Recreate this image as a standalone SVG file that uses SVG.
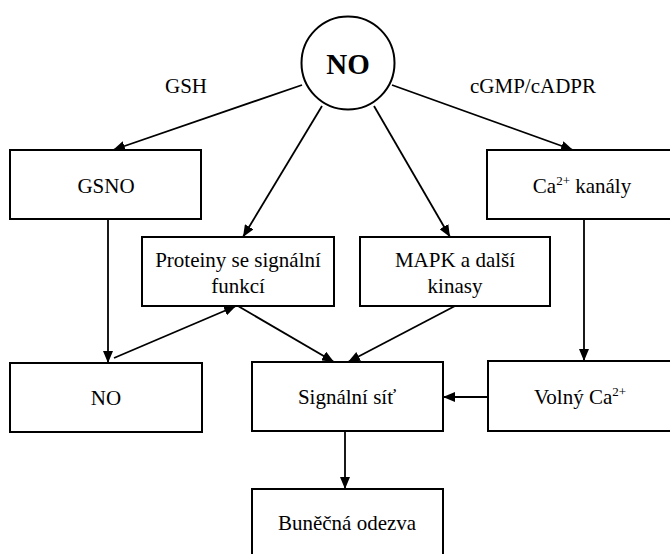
<svg xmlns="http://www.w3.org/2000/svg" width="670" height="554" viewBox="0 0 670 554">
<style>
  .box { fill: #fff; stroke: #000; stroke-width: 2; }
  .t { font-family: 'Liberation Serif', 'Times New Roman', serif; font-size: 21px; fill: #000; text-anchor: middle; }
  .sup { font-size: 13px; }
  .big { font-family: 'Liberation Serif', 'Times New Roman', serif; font-size: 29px; font-weight: bold; text-anchor: middle; }
  .c line { stroke: #000; stroke-width: 1.8; marker-end: url(#ah); }
</style>
<defs>
  <marker id="ah" viewBox="0 0 12 10" refX="12" refY="5" markerWidth="12" markerHeight="10" markerUnits="userSpaceOnUse" orient="auto">
    <path d="M0,0 L12,5 L0,10 z" fill="#000"/>
  </marker>
</defs>
<rect width="670" height="554" fill="#fff"/>
<g class="c" id="connectors">
  <line x1="302" y1="85" x2="113" y2="150"/>
  <line x1="322" y1="106" x2="243" y2="237"/>
  <line x1="374" y1="106" x2="450" y2="237"/>
  <line x1="392" y1="85" x2="573" y2="150"/>
  <line x1="108" y1="219" x2="108" y2="363"/>
  <line x1="114" y1="358" x2="236" y2="306"/>
  <line x1="238" y1="306" x2="334" y2="362"/>
  <line x1="455" y1="306" x2="348" y2="362"/>
  <line x1="584" y1="219" x2="584" y2="361"/>
  <line x1="488" y1="397" x2="443" y2="397"/>
  <line x1="345" y1="431" x2="345" y2="489"/>
</g>
<g id="no-circle">
  <circle cx="348" cy="63" r="46.5" fill="#fff" stroke="#000" stroke-width="2"/>
  <text class="big" x="348" y="74">NO</text>
</g>
<g id="gsh-label"><text class="t" x="186" y="93">GSH</text></g>
<g id="cgmp-label"><text class="t" x="533" y="93">cGMP/cADPR</text></g>
<g id="gsno">
  <rect class="box" x="10" y="150" width="191" height="69"/>
  <text class="t" x="106" y="193">GSNO</text>
</g>
<g id="ca-kanaly">
  <rect class="box" x="487" y="150" width="200" height="69"/>
  <text class="t" x="582" y="193">Ca<tspan class="sup" dy="-8">2+</tspan><tspan dy="8"> kanály</tspan></text>
</g>
<g id="proteiny">
  <rect class="box" x="142" y="237" width="192" height="69"/>
  <text class="t" x="238" y="267">Proteiny se signální</text>
  <text class="t" x="238" y="293">funkcí</text>
</g>
<g id="mapk">
  <rect class="box" x="360" y="237" width="190" height="69"/>
  <text class="t" x="455" y="267">MAPK a další</text>
  <text class="t" x="455" y="293">kinasy</text>
</g>
<g id="no-box">
  <rect class="box" x="10" y="363" width="192" height="69"/>
  <text class="t" x="106" y="405">NO</text>
</g>
<g id="signalni-sit">
  <rect class="box" x="252" y="362" width="191" height="69"/>
  <text class="t" x="347" y="404">Signální síť</text>
</g>
<g id="volny-ca">
  <rect class="box" x="488" y="361" width="200" height="70"/>
  <text class="t" x="580" y="404">Volný Ca<tspan class="sup" dy="-8">2+</tspan></text>
</g>
<g id="bunecna-odezva">
  <rect class="box" x="252" y="489" width="191" height="70"/>
  <text class="t" x="347" y="530">Buněčná odezva</text>
</g>
</svg>
